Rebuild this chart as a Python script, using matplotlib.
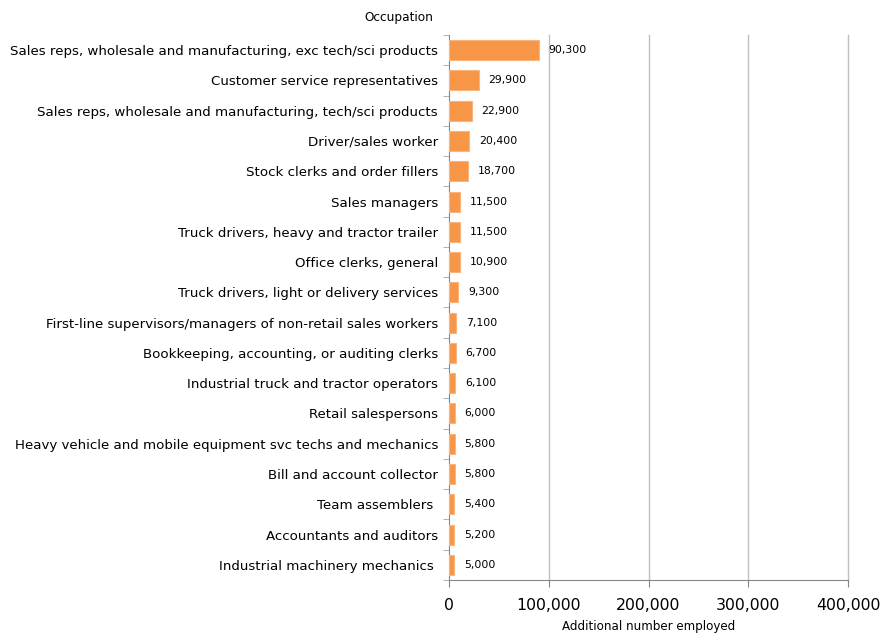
import numpy as np
import matplotlib.pyplot as plt
from matplotlib.ticker import FuncFormatter

occupations = [
    "Sales reps, wholesale and manufacturing, exc tech/sci products",
    "Customer service representatives",
    "Sales reps, wholesale and manufacturing, tech/sci products",
    "Driver/sales worker",
    "Stock clerks and order fillers",
    "Sales managers",
    "Truck drivers, heavy and tractor trailer",
    "Office clerks, general",
    "Truck drivers, light or delivery services",
    "First-line supervisors/managers of non-retail sales workers",
    "Bookkeeping, accounting, or auditing clerks",
    "Industrial truck and tractor operators",
    "Retail salespersons",
    "Heavy vehicle and mobile equipment svc techs and mechanics",
    "Bill and account collector",
    "Team assemblers ",
    "Accountants and auditors",
    "Industrial machinery mechanics ",
]
employed = [90300, 29900, 22900, 20400, 18700, 11500, 11500, 10900, 9300,
            7100, 6700, 6100, 6000, 5800, 5800, 5400, 5200, 5000]

orange = "#F79646"
grid_col = "#BFBFBF"

fig = plt.figure(figsize=(8.83, 6.34), dpi=100)
ax = fig.add_axes([0.5085, 0.0852, 0.9604 - 0.5085, 0.9448 - 0.0852])

n = len(occupations)
y = np.arange(n)
ax.barh(y, employed, height=0.66, color=orange, edgecolor="#FAB57F", linewidth=0.8, zorder=3)
ax.set_ylim(n - 0.5, -0.5)
ax.set_xlim(0, 400000)

for yi, v in zip(y, employed):
    ax.annotate(f"{v:,}", (v, yi), xytext=(7, 0), textcoords="offset points",
                va="center", ha="left", fontsize=7.8, color="black")

ax.set_yticks(y)
ax.set_yticklabels(occupations, fontsize=9.65)
ax.set_yticks(np.arange(n + 1) - 0.5, minor=True)
ax.tick_params(axis="y", which="major", length=0, pad=8)
ax.tick_params(axis="y", which="minor", length=4, color="#A6A6A6", direction="out")

ax.set_xticks([0, 100000, 200000, 300000, 400000])
ax.xaxis.set_major_formatter(FuncFormatter(lambda v, p: f"{int(v):,}"))
ax.tick_params(axis="x", labelsize=11.3, length=5, color="#868686", pad=8)
for xv in [100000, 200000, 300000, 400000]:
    ax.axvline(xv, color=grid_col, linewidth=1, zorder=0, clip_on=False)

for s in ["top", "right"]:
    ax.spines[s].set_visible(False)
for s in ["left", "bottom"]:
    ax.spines[s].set_color("#868686")

ax.set_xlabel("Additional number employed", fontsize=8.6, labelpad=5)
fig.text(433 / 883, 1 - 17 / 634, "Occupation", ha="right", va="center", fontsize=8.7)

fig.savefig("out.png", dpi=100)
